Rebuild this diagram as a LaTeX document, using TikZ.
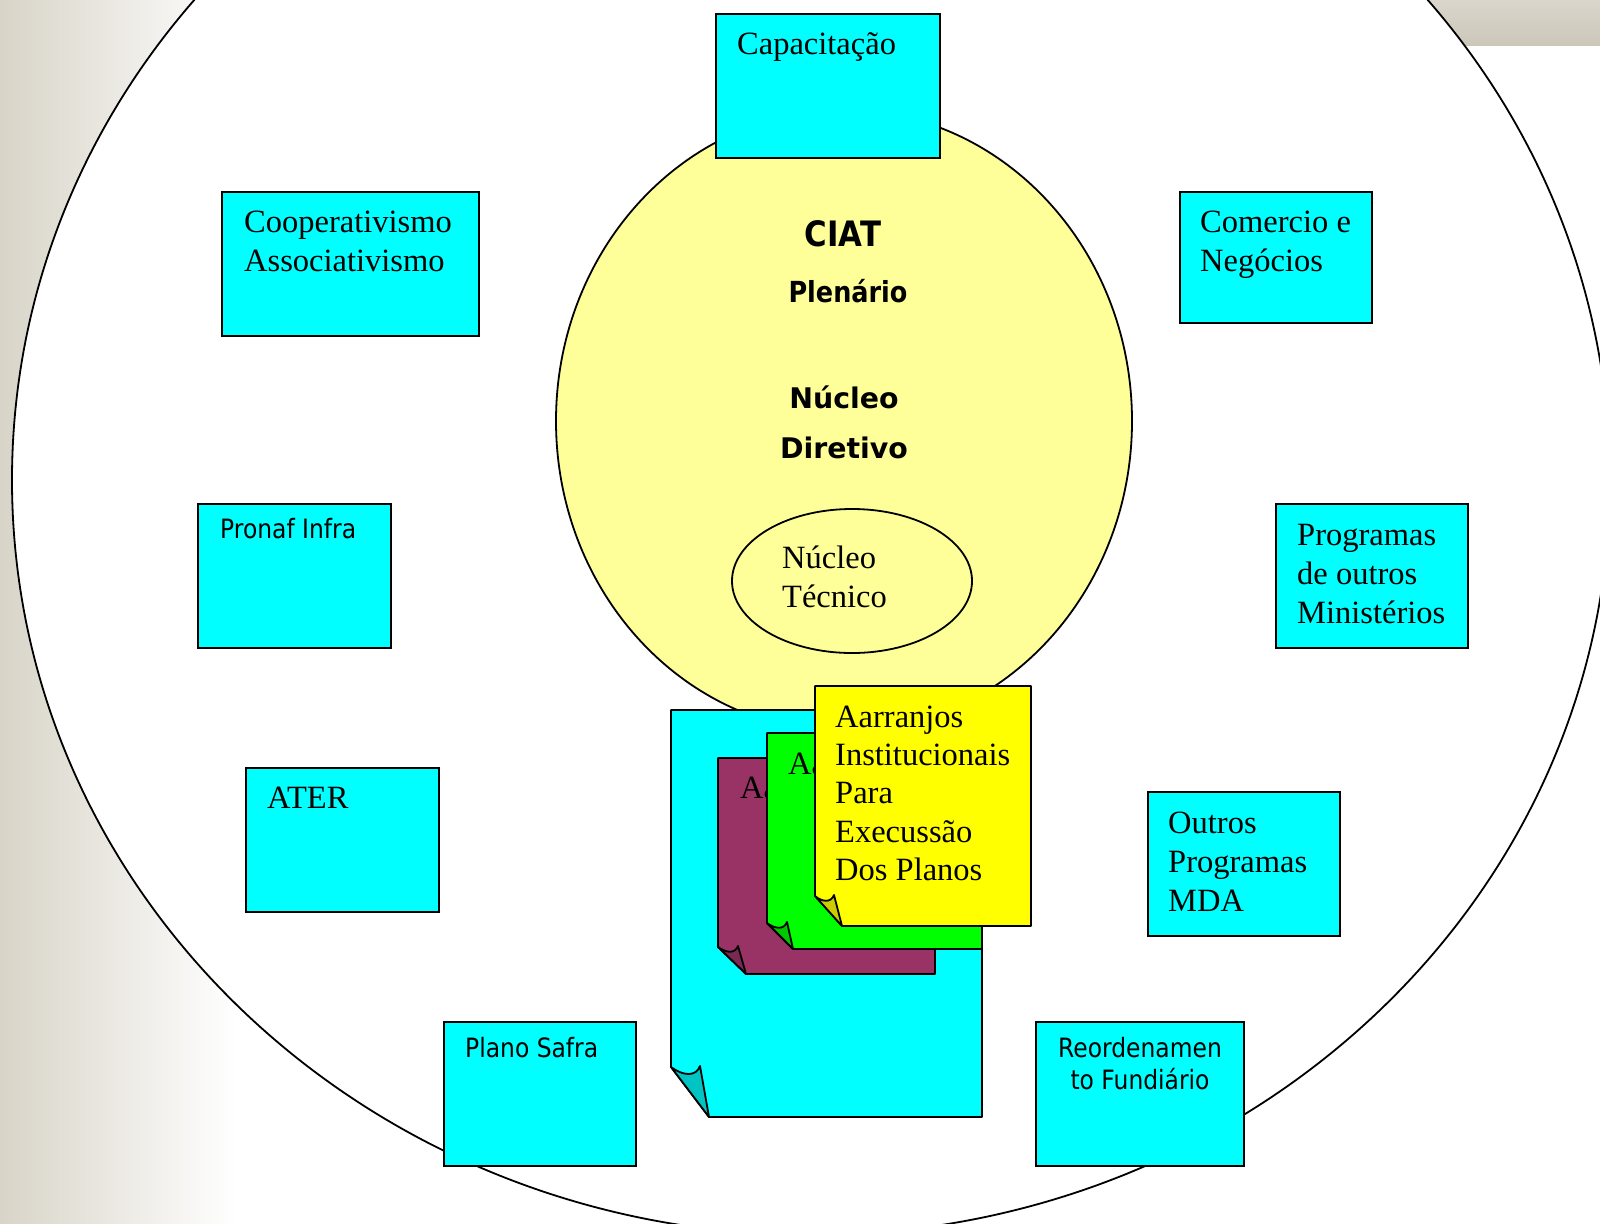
\documentclass[tikz,border=0pt]{standalone}
\usepackage{fontspec}
\setmainfont{Liberation Serif}
\newfontfamily\tah[FakeStretch=0.88]{DejaVu Sans}
\newfontfamily\ver{DejaVu Sans}
\usetikzlibrary{shapes.geometric,calc}
\definecolor{bgA}{HTML}{D8D4C8}
\definecolor{bandA}{HTML}{DAD6CC}
\definecolor{bandB}{HTML}{CCC7B9}
\definecolor{aqua}{HTML}{00FFFF}
\definecolor{aquaD}{HTML}{00C4C4}
\definecolor{pale}{HTML}{FFFF99}
\definecolor{plum}{HTML}{993366}
\definecolor{plumD}{HTML}{7A2952}
\definecolor{lime}{HTML}{00FF00}
\definecolor{limeD}{HTML}{00C800}
\definecolor{yel}{HTML}{FFFF00}
\definecolor{yelD}{HTML}{CCCC00}
\tikzset{
  cbox/.style={draw, fill=aqua, line width=1.8pt, inner sep=0pt, outer sep=0pt, anchor=north west},
  serift/.style={font=\fontsize{32.5}{39}\selectfont, align=left, inner sep=0pt, anchor=north west},
  sanst/.style={font=\tah\fontsize{26.6}{32}\selectfont, inner sep=0pt},
  pagebody/.style={line width=1.8pt, line join=round},
  outl/.style={draw, line width=1.8pt, inner sep=0pt, outer sep=0pt}
}
\begin{document}
\begin{tikzpicture}[x=1pt,y=-1pt]
\clip (0,0) rectangle (1600,1223);
% background
\fill[white] (0,0) rectangle (1600,1223);
\shade[left color=bgA, right color=white] (0,0) rectangle (236,1223);
\shade[top color=bandA, bottom color=bandB] (1300,0) rectangle (1600,46);
% outer ellipse
\node[outl, ellipse, fill=white, minimum width=1598pt, minimum height=1510pt] (outer) at (811,480) {};
% CIAT ellipse
\node[outl, ellipse, fill=pale, minimum width=576pt, minimum height=622pt] (ciat) at (844,421) {};
\node[font=\tah\bfseries\fontsize{35}{40}\selectfont, anchor=base, inner sep=0pt] (ciatT) at (843,246) {CIAT};
\node[font=\tah\bfseries\fontsize{29}{34}\selectfont, anchor=base, inner sep=0pt] (plen) at (848,302) {Plenário};
\node[font=\ver\bfseries\fontsize{28.4}{34}\selectfont, anchor=base, inner sep=0pt] (nd1) at (844,408) {Núcleo};
\node[font=\ver\bfseries\fontsize{28.4}{34}\selectfont, anchor=base, inner sep=0pt] (nd2) at (844,458) {Diretivo};
% inner ellipse
\node[outl, ellipse, minimum width=240pt, minimum height=144pt] (tec) at (852,581) {};
\node[serift] (tecT) at (782,538) {\rule{0pt}{30pt}Núcleo\\Técnico};
% boxes
\node[cbox, minimum width=224pt, minimum height=144pt] (cap) at (716,14) {};
\node[serift] (capT) at ($(cap.north west)+(21,10)$) {\rule{0pt}{30pt}Capacitação};
\node[cbox, minimum width=257pt, minimum height=144pt] (coop) at (222,192) {};
\node[serift] (coopT) at ($(coop.north west)+(22,10)$) {\rule{0pt}{30pt}Cooperativismo\\Associativismo};
\node[cbox, minimum width=192pt, minimum height=131pt] (com) at (1180,192) {};
\node[serift] (comT) at ($(com.north west)+(20,10)$) {\rule{0pt}{30pt}Comercio e\\Negócios};
\node[cbox, minimum width=193pt, minimum height=144pt] (pronaf) at (198,504) {};
\node[sanst, anchor=north west] (pronafT) at ($(pronaf.north west)+(22,10)$) {\rule{0pt}{24pt}Pronaf Infra};
\node[cbox, minimum width=192pt, minimum height=144pt] (prog) at (1276,504) {};
\node[serift] (progT) at ($(prog.north west)+(21,11)$) {\rule{0pt}{30pt}Programas\\de outros\\Ministérios};
\node[cbox, minimum width=193pt, minimum height=144pt] (ater) at (246,768) {};
\node[serift] (aterT) at ($(ater.north west)+(21,10)$) {\rule{0pt}{30pt}ATER};
\node[cbox, minimum width=192pt, minimum height=144pt] (outros) at (1148,792) {};
\node[serift] (outrosT) at ($(outros.north west)+(20,11)$) {\rule{0pt}{30pt}Outros\\Programas\\MDA};
\node[cbox, minimum width=192pt, minimum height=144pt] (plano) at (444,1022) {};
\node[sanst, anchor=north west] (planoT) at ($(plano.north west)+(21,11)$) {\rule{0pt}{24pt}Plano Safra};
\node[cbox, minimum width=208pt, minimum height=144pt] (reord) at (1036,1022) {};
\node[sanst, anchor=north, align=center] (reordT) at ($(reord.north)+(0,11)$) {\rule{0pt}{24pt}Reordenamen\\to Fundiário};
% stacked pages
\filldraw[pagebody, fill=aqua] (671,710) -- (982,710) -- (982,1117) -- (709,1117) -- (671,1067) -- cycle;
\filldraw[pagebody, fill=aquaD] (671,1067) .. controls (683,1076) and (696,1077) .. (700,1066) -- (709,1117) -- cycle;
\filldraw[pagebody, fill=plum] (718,758) -- (935,758) -- (935,974) -- (746,974) -- (718,947) -- cycle;
\filldraw[pagebody, fill=plumD] (718,947) .. controls (726,953) and (735,954) .. (738,946) -- (746,974) -- cycle;
\node[serift] (plumT) at (740,768) {\rule{0pt}{30pt}Aa};
\filldraw[pagebody, fill=lime] (767,733) -- (982,733) -- (982,949) -- (793,949) -- (767,923) -- cycle;
\filldraw[pagebody, fill=limeD] (767,923) .. controls (775,929) and (784,930) .. (787,922) -- (793,949) -- cycle;
\node[serift] (limeT) at (788,744) {\rule{0pt}{30pt}Aa};
\filldraw[pagebody, fill=yel] (815,686) -- (1031,686) -- (1031,926) -- (842,926) -- (815,896) -- cycle;
\filldraw[pagebody, fill=yelD] (815,896) .. controls (822,902) and (831,903) .. (834,895) -- (842,926) -- cycle;
\node[serift, font=\fontsize{32.5}{38.3}\selectfont] (yelT) at (835,697) {\rule{0pt}{30pt}Aarranjos\\Institucionais\\Para\\Execussão\\Dos Planos};
\end{tikzpicture}
\end{document}
